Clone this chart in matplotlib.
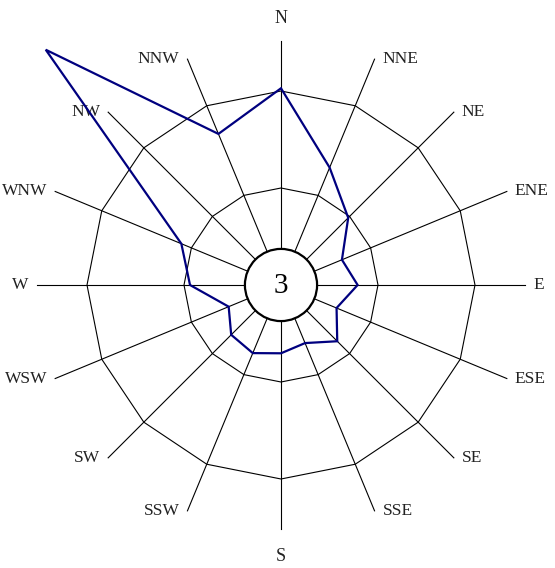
import numpy as np
import matplotlib
matplotlib.use("Agg")
import matplotlib.pyplot as plt
from matplotlib.patches import Circle, Polygon

# wind rose data (frequency, same scale as the rings)
directions = ["N", "NNE", "NE", "ENE", "E", "ESE", "SE", "SSE",
              "S", "SSW", "SW", "WSW", "W", "WNW", "NW", "NNW"]
freq = [10.14, 6.55, 4.9, 3.4, 3.95, 3.1, 4.1, 3.24,
        3.52, 3.8, 3.63, 2.92, 4.69, 5.56, 17.15, 8.43]
rings = [5, 10]
calm = "3"

spoke_len = 12.6
calm_r = 1.86

px = 19.4  # pixels per unit
cx, cy = 281, 285
W, H = 555, 568

fig = plt.figure(figsize=(W / 100, H / 100), dpi=100)
ax = fig.add_axes([0, 0, 1, 1])
ax.set_xlim(-cx / px, (W - cx) / px)
ax.set_ylim(-(H - cy) / px, cy / px)
ax.axis("off")

theta = np.deg2rad(np.arange(len(directions)) * 360 / len(directions))
sx, sy = np.sin(theta), np.cos(theta)

# spokes
for x, y in zip(sx, sy):
    ax.plot([0, spoke_len * x], [0, spoke_len * y], color="black", lw=0.8, zorder=1)

# polygon rings
for r in rings:
    ax.add_patch(Polygon(np.column_stack([r * sx, r * sy]), closed=True,
                         fill=False, edgecolor="black", lw=0.8, zorder=1))

# direction labels, just beyond the spoke ends
font = ["DejaVu Serif Condensed", "Liberation Serif"]
for name, x, y in zip(directions, sx, sy):
    ex, ey = spoke_len * x, spoke_len * y
    if abs(x) < 0.1:
        dy = 22 / px if y > 0 else -27 / px
        ax.text(ex, ey + dy, name, ha="center", va="center", fontsize=13,
                family=font, color="#222222")
    else:
        dx = 8 / px if x > 0 else -8 / px
        ax.text(ex + dx, ey, name, ha="left" if x > 0 else "right", va="center",
                fontsize=12.5, family=font, color="#222222")

# calm circle
ax.add_patch(Circle((0, 0), calm_r, facecolor="white", edgecolor="black",
                    lw=1.6, zorder=2))
ax.text(0, -0.05, calm, ha="center", va="center", fontsize=21,
        family=["Liberation Serif"], zorder=3)

# frequency line
ax.add_patch(Polygon(np.column_stack([np.array(freq) * sx, np.array(freq) * sy]),
                     closed=True, fill=False, edgecolor="#00007f", lw=1.6,
                     zorder=4, clip_on=False))

fig.savefig("out.png", dpi=100)
